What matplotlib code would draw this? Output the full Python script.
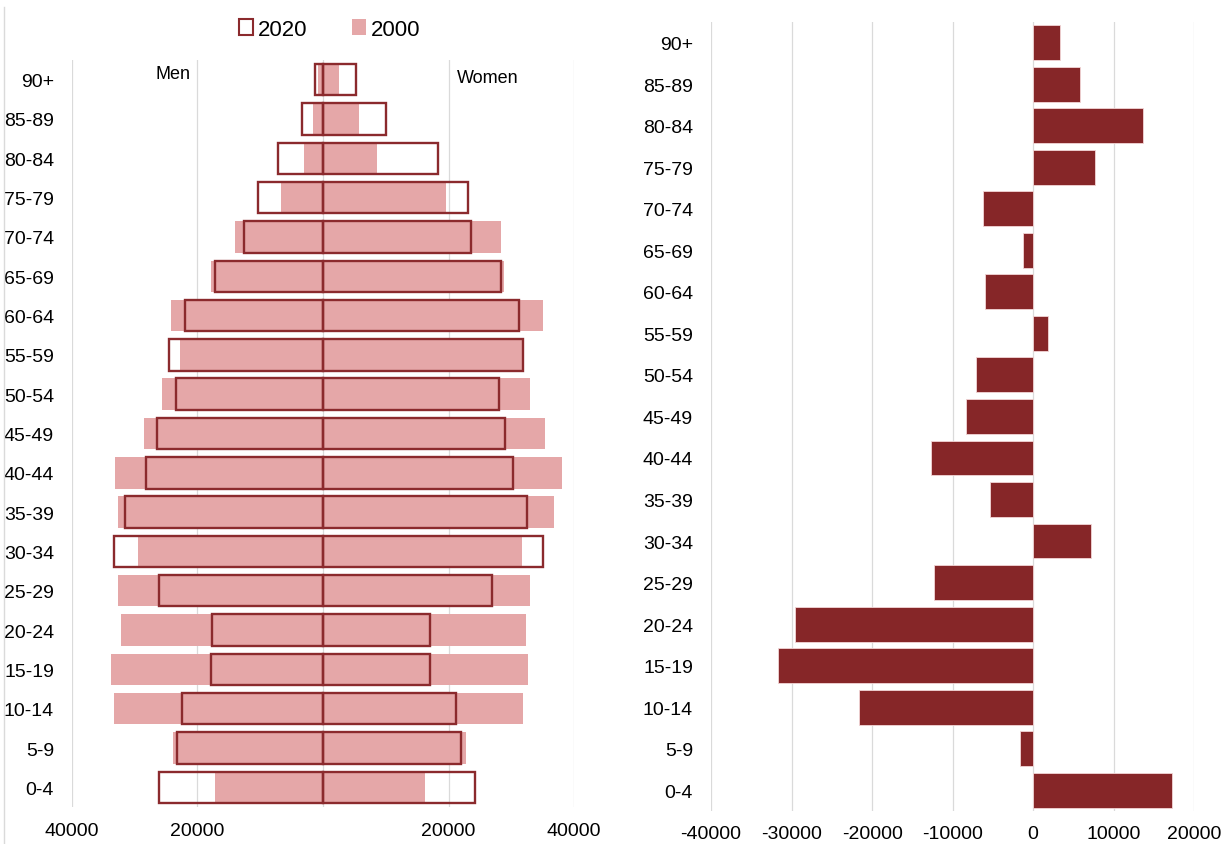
import matplotlib
matplotlib.use("Agg")
import matplotlib.pyplot as plt
import matplotlib.patches as mp
from matplotlib.lines import Line2D

plt.rcParams["font.family"] = ["Liberation Sans", "DejaVu Sans"]

# ===== data =====
ages = ["0-4", "5-9", "10-14", "15-19", "20-24", "25-29", "30-34", "35-39",
        "40-44", "45-49", "50-54", "55-59", "60-64", "65-69", "70-74",
        "75-79", "80-84", "85-89", "90+"]
men_2020 = [26200, 23300, 22400, 17900, 17650, 26200, 33350, 31600, 28150,
            26400, 23500, 24600, 21950, 17200, 12550, 10300, 7150, 3300, 1350]
women_2020 = [24300, 22000, 21150, 17100, 17100, 26950, 35000, 32550, 30300,
              29000, 28050, 31900, 31250, 28300, 23600, 23150, 18250, 10100, 5250]
men_2000 = [17200, 23850, 33300, 33750, 32200, 32650, 29550, 32650, 33100,
            28600, 25700, 22800, 24200, 17850, 14050, 6650, 3050, 1650, 800]
women_2000 = [16200, 22850, 31900, 32700, 32350, 32950, 31650, 36750, 38100,
              35450, 32950, 31700, 35050, 28900, 28300, 19550, 8550, 5800, 2500]
change = [17200, -1600, -21600, -31650, -29600, -12350, 7150, -5400, -12650,
          -8350, -7150, 1800, -5950, -1300, -6250, 7700, 13700, 5800, 3300]

FILL = "#E5A7A8"
EDGE = "#8B2A2D"
DARK = "#862628"
GRID = "#DADADA"

fig = plt.figure(figsize=(12.26, 8.45), dpi=100)
pos = list(range(len(ages)))

# ===== left: pyramid =====
ax = fig.add_axes([0.0587, 0.0438, 0.4095, 0.884])
ax.barh(pos, [-v for v in men_2000], height=0.8, color=FILL, zorder=2)
ax.barh(pos, women_2000, height=0.8, color=FILL, zorder=2)
ax.barh(pos, [-v for v in men_2020], height=0.8, facecolor="none",
        edgecolor=EDGE, lw=1.7, zorder=3)
ax.barh(pos, women_2020, height=0.8, facecolor="none",
        edgecolor=EDGE, lw=1.7, zorder=3)
ax.set_xlim(-40000, 40000)
ax.set_ylim(-0.5, 18.5)
ax.set_yticks(pos)
ax.set_yticklabels(ages, fontsize=14)
ax.set_xticks([-40000, -20000, 0, 20000, 40000])
ax.set_xticklabels(["40000", "20000", "", "20000", "40000"], fontsize=14)
ax.grid(axis="x", color=GRID, lw=0.9, zorder=0)
ax.set_axisbelow(True)
for s in ax.spines.values():
    s.set_visible(False)
ax.tick_params(axis="y", length=0, pad=13)
ax.tick_params(axis="x", length=0, pad=11)
ax.text(-23900, 18.15, "Men", ha="center", va="center", fontsize=13)
ax.text(26300, 18.05, "Women", ha="center", va="center", fontsize=13)

fig.legend(handles=[mp.Patch(facecolor="white", edgecolor=EDGE, lw=1.5, label="2020"),
                    mp.Patch(facecolor=FILL, label="2000")],
           loc="center", bbox_to_anchor=(330 / 1226, 1 - 30 / 845), ncol=2,
           frameon=False, fontsize=16, handlelength=0.6, handleheight=0.7,
           handletextpad=0.25, columnspacing=2.0)

# ===== right: change =====
ax2 = fig.add_axes([0.580, 0.039, 0.394, 0.934])
ax2.barh(pos, change, height=0.84, color=DARK, edgecolor="#f2d6d6", lw=0.6, zorder=2)
ax2.set_xlim(-40000, 20000)
ax2.set_ylim(-0.5, 18.5)
ax2.set_yticks(pos)
ax2.set_yticklabels(ages, fontsize=14)
ax2.set_xticks(range(-40000, 20001, 10000))
ax2.set_xticklabels([str(v) for v in range(-40000, 20001, 10000)], fontsize=14)
ax2.grid(axis="x", color=GRID, lw=0.9, zorder=0)
ax2.set_axisbelow(True)
for s in ax2.spines.values():
    s.set_visible(False)
ax2.tick_params(axis="y", length=0, pad=13)
ax2.tick_params(axis="x", length=0, pad=10)

# chart border line at far left
fig.add_artist(Line2D([0.003, 0.003], [0, 1 - 8 / 845], color=GRID, lw=1))

fig.savefig("out.png", dpi=100)
